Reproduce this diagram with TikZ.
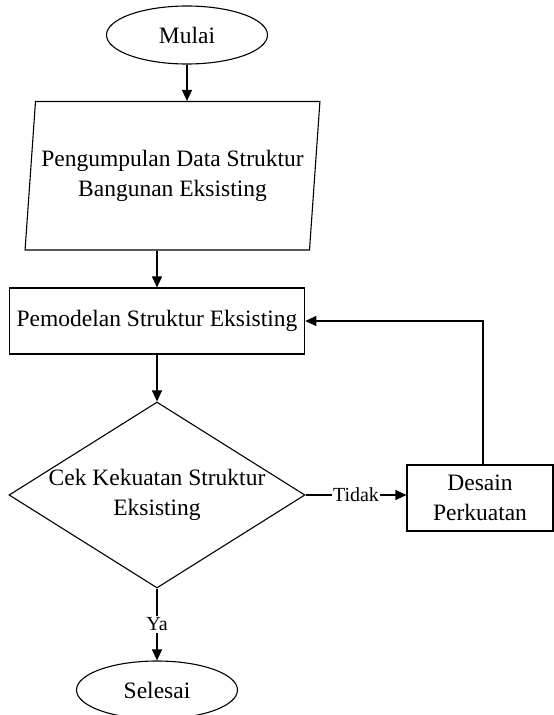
\documentclass[tikz,border=0pt]{standalone}
\usepackage{fontspec}
\setmainfont{Liberation Serif}
\usetikzlibrary{shapes.geometric,arrows.meta}

\begin{document}
\begin{tikzpicture}[
      x=1pt, y=-1pt,
      line width=1.1pt,
      every node/.style={font=\fontsize{23.5}{30}\selectfont, inner sep=0pt},
      terminal/.style={draw, ellipse, minimum width=161pt, minimum height=58pt},
      inputbox/.style={draw, trapezium, trapezium left angle=79, trapezium right angle=101,
        trapezium stretches, align=center, minimum width=295pt, minimum height=148.5pt},
      process/.style={draw, rectangle, align=center},
      decision/.style={draw, diamond, minimum width=296pt, minimum height=186pt},
      flow/.style={draw, -{Triangle[length=11pt,width=10pt]}},
      answer/.style={fill=white, inner sep=1.5pt, font=\fontsize{20}{24}\selectfont}
    ]
    \useasboundingbox (0,0) rectangle (554,715);

    \node[terminal] (mulai) at (187,35) {Mulai};
    \node[inputbox] (data) at (172.5,175.75) {Pengumpulan Data Struktur\\Bangunan Eksisting};
    \node[process, minimum width=295.5pt, minimum height=66pt] (model) at (157,321)
      {Pemodelan Struktur Eksisting};
    \node[decision, label={[align=center]center:Cek Kekuatan Struktur\\Eksisting}]
      (cek) at (157,495) {};
    \node[process, minimum width=146pt, minimum height=66pt] (desain) at (480,498)
      {Desain\\Perkuatan};
    \node[terminal] (selesai) at (157,690) {Selesai};

    \draw[flow] (mulai) -- (mulai |- data.north);
    \draw[flow] (model |- data.south) -- (model);
    \draw[flow] (model) -- (cek);
    \draw[flow] (cek.east) -- (cek.east -| desain.west) node[midway, answer] {Tidak};
    \draw[flow] ([xshift=3pt]desain.north) |- (model.east);
    \draw[flow] (cek) -- (selesai) node[midway, answer] {Ya};
\end{tikzpicture}
\end{document}
